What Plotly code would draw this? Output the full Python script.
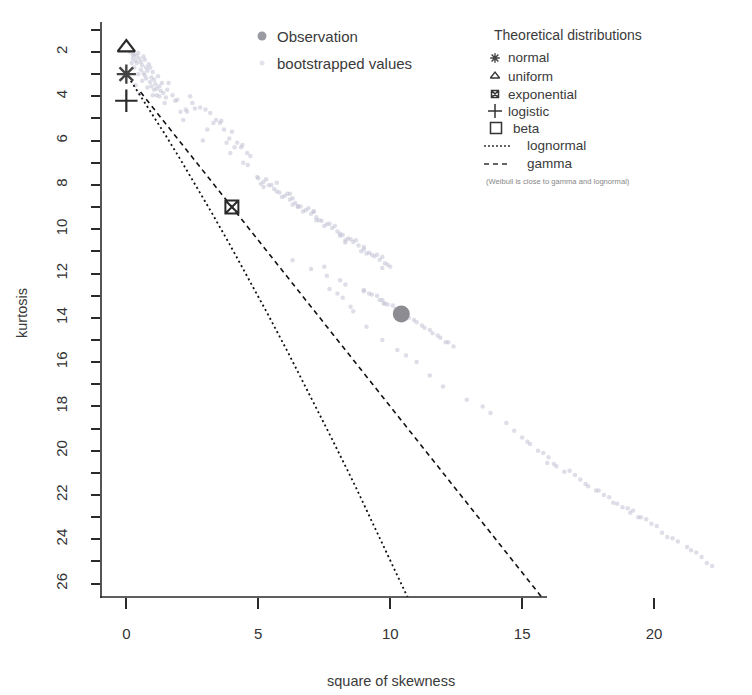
import plotly.graph_objects as go

# Observed sample: (square of skewness, kurtosis)
obs_skew2 = [10.42]
obs_kurt = [13.83]

# Bootstrapped (square of skewness, kurtosis) values
boot_skew2 = [
    0.15, 0.30, 0.45, 0.25, 0.50, 0.70, 0.40, 0.60, 0.85, 0.30, 0.55, 0.80, 1.00, 0.45, 0.70,
    0.95, 1.20, 0.60, 0.90, 1.10, 1.35, 0.80, 1.05, 1.30, 1.55, 1.00, 1.25, 1.50, 1.75, 0.35,
    1.45, 0.20, 0.65, 1.15, 0.50, 0.40, 0.90, 1.60, 1.85, 0.75,
    0.25, 0.55, 0.75, 1.05, 1.25, 1.40, 0.35, 0.65, 0.95, 1.15,
    1.93, 2.42, 2.80, 3.18, 3.40, 3.07, 3.70, 4.20, 4.58, 3.94, 4.43, 2.90, 2.16, 2.60, 3.55,
    2.25, 3.90, 4.35, 2.05,
    2.30, 2.50, 3.00, 3.30, 3.60, 4.00, 4.40, 4.70, 4.10, 4.60, 3.80,
    4.96, 5.20, 5.70, 6.20, 6.50, 7.20, 8.10, 9.00, 9.70,
    5.00, 5.20, 5.40, 5.60, 5.80, 6.00, 6.20, 6.40, 6.60, 6.80, 7.00, 7.20, 7.40, 7.60, 7.80,
    8.00, 8.20, 8.40, 8.60, 8.80, 9.00, 9.20, 9.40, 9.60, 9.80, 10.00,
    5.30, 5.70, 6.10, 6.50, 6.90, 7.30, 7.70, 8.10, 8.50, 8.90, 9.30, 9.70, 6.30, 7.10, 8.30,
    5.10, 5.50, 5.90, 6.30, 6.70, 7.10, 7.50, 7.90, 8.30, 8.70, 9.10, 9.50, 9.90,
    6.30, 7.00, 7.60, 8.30, 9.00, 9.70, 7.50, 8.10,
    7.70, 8.20, 8.50,
    9.00, 9.30, 9.60, 9.90, 10.20, 10.70, 11.00, 11.30, 11.60, 11.90, 12.40, 9.50, 10.10, 10.90,
    11.50, 12.10, 9.75, 9.20, 9.80, 10.40, 11.20, 11.80, 12.20,
    8.00, 8.60, 9.10, 9.70, 10.27, 10.60, 11.00, 11.50, 12.00, 12.90, 13.50, 13.80, 14.40,
    15.00, 15.30, 15.60, 15.95, 16.30, 16.60, 17.20, 17.50, 17.80, 18.10, 18.45, 18.80, 19.10,
    19.40, 19.70, 20.10, 20.50, 20.90, 21.25, 21.60, 22.00, 22.20, 16.00, 17.00, 18.30, 19.20,
    14.70, 15.20, 15.80, 16.20, 16.80, 17.40, 17.90, 18.60, 19.00, 19.50, 19.90, 20.30, 20.70,
    21.40, 21.80,
]
boot_kurt = [
    2.00, 2.10, 2.05, 2.30, 2.30, 2.35, 2.50, 2.60, 2.55, 2.70, 2.80, 2.85, 2.90, 3.00, 3.05,
    3.15, 3.10, 3.30, 3.35, 3.45, 3.40, 3.60, 3.70, 3.75, 3.70, 3.95, 4.00, 4.05, 3.95, 3.50,
    4.30, 2.50, 2.20, 3.95, 3.90, 2.20, 2.70, 3.40, 4.20, 3.20,
    2.15, 2.45, 2.70, 3.25, 3.55, 3.85, 2.40, 2.95, 3.55, 3.65,
    4.15, 4.00, 4.50, 4.75, 5.07, 5.50, 5.50, 6.10, 6.56, 6.56, 7.00, 6.00, 5.07, 4.55, 5.20,
    4.60, 5.90, 6.30, 4.70,
    4.70, 4.30, 4.60, 5.20, 5.10, 5.60, 6.20, 6.70, 6.30, 7.10, 6.10,
    7.64, 8.10, 7.90, 8.40, 9.00, 9.60, 10.20, 10.80, 11.25,
    7.70, 7.86, 8.02, 8.18, 8.34, 8.50, 8.66, 8.82, 8.98, 9.14, 9.30, 9.46, 9.62, 9.78, 9.94,
    10.10, 10.26, 10.42, 10.58, 10.74, 10.90, 11.06, 11.22, 11.38, 11.54, 11.70,
    7.75, 8.30, 8.40, 8.95, 9.05, 9.60, 9.75, 10.30, 10.45, 11.00, 11.15, 11.75, 8.90, 9.20, 10.60,
    7.95, 8.00, 8.55, 8.60, 9.20, 9.20, 9.85, 9.85, 10.50, 10.50, 11.10, 11.15, 11.60,
    11.40, 11.80, 12.10, 12.50, 12.80, 13.20, 11.70, 12.30,
    12.70, 13.10, 13.50,
    12.75, 12.95, 13.20, 13.40, 13.60, 14.00, 14.20, 14.45, 14.70, 14.90, 15.30, 13.00, 13.45, 14.10,
    14.55, 15.10, 13.35, 12.90, 13.35, 13.75, 14.35, 14.80, 15.10,
    12.90, 13.70, 14.40, 15.00, 15.45, 15.70, 16.00, 16.60, 17.10, 17.70, 18.00, 18.30, 18.75,
    19.40, 19.70, 20.00, 20.55, 20.70, 20.95, 21.30, 21.60, 21.80, 22.00, 22.35, 22.55, 22.80,
    23.00, 23.10, 23.40, 23.90, 24.10, 24.35, 24.60, 25.07, 25.20, 20.30, 21.10, 22.10, 22.70,
    19.10, 19.60, 20.10, 20.60, 20.90, 21.50, 21.80, 22.40, 22.60, 23.00, 23.30, 23.70, 23.95,
    24.50, 24.80,
]

# Theoretical points
normal_pt = ([0.0], [3.0])
uniform_pt = ([0.0], [1.8])
logistic_pt = ([0.0], [4.2])
exponential_pt = ([4.0], [9.0])

# Theoretical curves
gamma_skew2 = [0.54, 29.6]
gamma_kurt = [3.81, 47.4]
lognormal_skew2 = [0.169, 0.465, 0.961, 1.488, 2.048, 2.641, 3.267, 3.928, 4.624, 5.356,
                   6.125, 6.931, 7.776, 8.660, 9.583, 10.84, 11.552]
lognormal_kurt = [3.30, 3.838, 4.756, 5.759, 6.85, 8.035, 9.32, 10.71, 12.21, 13.825,
                  15.56, 17.43, 19.43, 21.56, 23.85, 27.0, 28.88]

# y axis: ticks at each integer, labels on even values
y_tickvals = list(range(1, 27))
y_ticktext = [str(v) if v % 2 == 0 else "" for v in y_tickvals]
x_tickvals = [0, 5, 10, 15, 20]

W, H = 752, 695
INK = "#2a2a2a"
FONT = "Liberation Sans, Arial, sans-serif"


def px(x):
    return x / W


def py(y):
    return 1 - y / H


fig = go.Figure()

# bootstrapped values
fig.add_trace(go.Scatter(
    x=boot_skew2, y=boot_kurt, mode="markers",
    marker=dict(size=4.5, color="rgba(190,190,210,0.5)", line=dict(width=0)),
    showlegend=False, xaxis="x", yaxis="y"))

# theoretical curves
fig.add_trace(go.Scatter(
    x=lognormal_skew2, y=lognormal_kurt, mode="lines",
    line=dict(color="#111", width=1.8, dash="2px,3px"),
    showlegend=False, xaxis="x", yaxis="y"))
fig.add_trace(go.Scatter(
    x=gamma_skew2, y=gamma_kurt, mode="lines",
    line=dict(color="#111", width=1.6, dash="5px,4px"),
    showlegend=False, xaxis="x", yaxis="y"))

# theoretical distributions as points
fig.add_trace(go.Scatter(
    x=uniform_pt[0], y=uniform_pt[1], mode="markers",
    marker=dict(symbol="triangle-up-open", size=15, color=INK, line=dict(width=2.2)),
    showlegend=False, xaxis="x", yaxis="y"))
fig.add_trace(go.Scatter(
    x=normal_pt[0], y=normal_pt[1], mode="markers",
    marker=dict(symbol="asterisk-open", size=16, color="#444", line=dict(width=2.4)),
    showlegend=False, xaxis="x", yaxis="y"))
fig.add_trace(go.Scatter(
    x=logistic_pt[0], y=logistic_pt[1], mode="markers",
    marker=dict(symbol="cross-thin-open", size=16, color=INK, line=dict(width=2.2)),
    showlegend=False, xaxis="x", yaxis="y"))
fig.add_trace(go.Scatter(
    x=exponential_pt[0], y=exponential_pt[1], mode="markers",
    marker=dict(symbol="square-x-open", size=13, color=INK, line=dict(width=2)),
    showlegend=False, xaxis="x", yaxis="y"))

# observation
fig.add_trace(go.Scatter(
    x=obs_skew2, y=obs_kurt, mode="markers",
    marker=dict(size=17, color="#8c8c92", line=dict(width=0)),
    showlegend=False, xaxis="x", yaxis="y"))

# legend glyphs, placed on a full-figure pixel grid
def glyph(x, y, symbol, size, color, lw=1.5):
    fig.add_trace(go.Scatter(
        x=[x], y=[y], mode="markers",
        marker=dict(symbol=symbol, size=size, color=color, line=dict(width=lw, color=color)),
        showlegend=False, xaxis="x2", yaxis="y2"))

glyph(262, 36, "circle", 9, "#9a9aa2", 0)
glyph(262, 63, "circle", 5, "rgba(200,200,215,0.5)", 0)
glyph(495, 58, "asterisk-open", 8, "#444", 1.4)
glyph(495, 76, "triangle-up-open", 8, "#333", 1.3)
glyph(495, 94, "square-x-open", 7, "#333", 1.5)
glyph(495, 111, "cross-thin-open", 10, "#333", 1.5)
glyph(496, 128, "square-open", 11, "#333", 1.5)
fig.add_trace(go.Scatter(x=[484, 511], y=[146, 146], mode="lines",
                         line=dict(color="#333", width=1.3, dash="2px,2px"),
                         showlegend=False, xaxis="x2", yaxis="y2"))
fig.add_trace(go.Scatter(x=[484, 511], y=[164, 164], mode="lines",
                         line=dict(color="#333", width=1.3, dash="5px,4px"),
                         showlegend=False, xaxis="x2", yaxis="y2"))

annotations = []


def label(x, y, text, size, color="#3a3a3a", anchor="left", angle=0):
    annotations.append(dict(
        x=px(x), y=py(y), xref="paper", yref="paper", text=text, showarrow=False,
        xanchor=anchor, yanchor="middle", textangle=angle,
        font=dict(family=FONT, size=size, color=color)))

label(275, 36, "Observation", 15)
label(275, 64, "bootstrapped values", 15)
label(492, 35, "Theoretical distributions", 14)
label(506, 58, "normal", 13.5)
label(506, 76, "uniform", 13.5)
label(506, 94, "exponential", 13.5)
label(506, 111, "logistic", 13.5)
label(511, 128, "beta", 13.5)
label(525, 146, "lognormal", 13.5)
label(525, 164, "gamma", 13.5)
label(484, 182, "(Weibull is close to gamma and lognormal)", 7.6, color="#888")

label(391, 681, "square of skewness", 14.5, anchor="center")
label(22, 313, "kurtosis", 14.5, anchor="center", angle=-90)

fig.update_layout(annotations=annotations)

# axis lines
fig.add_shape(type="line", xref="paper", yref="paper",
              x0=px(101), x1=px(101), y0=py(22), y1=py(598),
              line=dict(color=INK, width=1.6))
fig.add_shape(type="line", xref="paper", yref="paper",
              x0=px(100), x1=px(547), y0=py(597), y1=py(597),
              line=dict(color=INK, width=1.6))

fig.update_layout(
    width=W, height=H,
    margin=dict(l=0, r=0, t=0, b=0),
    paper_bgcolor="white", plot_bgcolor="rgba(0,0,0,0)",
    showlegend=False,
    font=dict(family=FONT, color="#333"),
    xaxis=dict(
        domain=[101 / W, 1], range=[-0.96, 23.71], anchor="y",
        showgrid=False, zeroline=False, showline=False,
        tickvals=x_tickvals, ticks="outside", ticklen=11, tickwidth=1.6, tickcolor=INK,
        tickfont=dict(family=FONT, size=15, color="#333"), ticklabelstandoff=12,
    ),
    yaxis=dict(
        domain=[1 - 597 / H, 1], range=[26.605, -0.348], anchor="x",
        showgrid=False, zeroline=False, showline=False,
        tickvals=y_tickvals, ticktext=y_ticktext, ticks="outside", ticklen=9,
        tickwidth=1.6, tickcolor=INK, tickangle=-90,
        tickfont=dict(family=FONT, size=15, color="#333"), ticklabelstandoff=18,
    ),
    xaxis2=dict(domain=[0, 1], range=[0, W], anchor="y2", visible=False, fixedrange=True),
    yaxis2=dict(domain=[0, 1], range=[H, 0], anchor="x2", visible=False, fixedrange=True),
)

fig.write_html("out.html")
